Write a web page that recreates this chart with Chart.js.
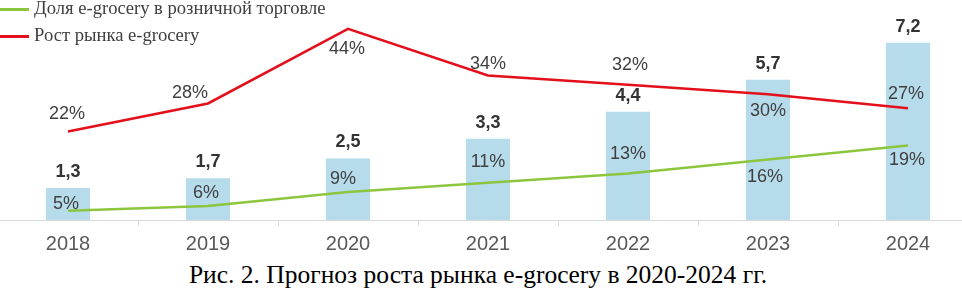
<!DOCTYPE html>
<html>
<head>
<meta charset="utf-8">
<script src="https://cdn.jsdelivr.net/npm/chart.js@4/dist/chart.umd.min.js"></script>
<style>
  body { margin: 0; width: 962px; height: 289px; overflow: hidden; background: #fff; position: relative; }
  #chart { position: absolute; left: -2px; top: 0; }
  .legend { position: absolute; left: 0; font-family: "Liberation Serif", serif; font-size: 18.6px; color: #404040; }
  .legend span { display: inline-block; width: 29px; height: 3px; vertical-align: middle; margin-right: 5px; }
  #caption { position: absolute; left: 0; width: 956px; top: 260px; text-align: center; line-height: 29px;
             font-family: "Liberation Serif", serif; font-size: 25.5px; color: #000; }
</style>
</head>
<body>
<canvas id="chart" width="980" height="255"></canvas>
<div class="legend" style="top:-3px"><span style="background:#8cc63f"></span>Доля e-grocery в розничной торговле</div>
<div class="legend" style="top:24px"><span style="background:#e3101c"></span>Рост рынка e-grocery</div>
<div id="caption">Рис. 2. Прогноз роста рынка e-grocery в 2020-2024 гг.</div>
<script>
// данные
var years = ['2018', '2019', '2020', '2021', '2022', '2023', '2024'];
var marketSize = [1.3, 1.7, 2.5, 3.3, 4.4, 5.7, 7.2];
var shareRetail = [5, 6, 9, 11, 13, 16, 19];
var marketGrowth = [22, 28, 44, 34, 32, 30, 27];

// сдвиги подписей (px) относительно точек
var growthLabelDx = [-1, -18, -1, 0, 2, 0, -2];
var growthLabelDy = [-17, -10, 20, -11, -20, 17, -14];
var shareLabelDx = [-2, -2, -5, 0, 0, -3, -1];
var shareLabelDy = [-7, -13, -13, -21, -19, 18, 15];

var labelsPlugin = {
    id: 'labels',
    afterDatasetsDraw: function (chart) {
        var c = chart.ctx;
        c.save();
        c.textAlign = 'center';
        c.textBaseline = 'middle';

        // значения столбцов
        c.font = 'bold 18px "Liberation Sans", Arial, sans-serif';
        c.fillStyle = '#333333';
        chart.getDatasetMeta(0).data.forEach(function (el, i) {
            c.fillText(marketSize[i].toFixed(1).replace('.', ','), el.x, el.y - 16);
        });

        c.font = '18px "Liberation Sans", Arial, sans-serif';
        c.fillStyle = '#404040';
        chart.getDatasetMeta(1).data.forEach(function (el, i) {
            c.fillText(shareRetail[i] + '%', el.x + shareLabelDx[i], el.y + shareLabelDy[i]);
        });
        chart.getDatasetMeta(2).data.forEach(function (el, i) {
            c.fillText(marketGrowth[i] + '%', el.x + growthLabelDx[i], el.y + growthLabelDy[i]);
        });
        c.restore();
    }
};

var ctx = document.getElementById('chart').getContext('2d');
var myChart = new Chart(ctx, {
    type: 'bar',
    data: {
        labels: years,
        datasets: [{
            label: 'Рынок e-grocery',
            data: marketSize,
            backgroundColor: '#b6dbeb',
            barPercentage: 0.315,
            categoryPercentage: 1,
            yAxisID: 'y',
            order: 10
        }, {
            type: 'line',
            label: 'Доля e-grocery в розничной торговле',
            data: shareRetail,
            borderColor: '#8cc63f',
            borderWidth: 2.5,
            pointRadius: 0,
            tension: 0,
            yAxisID: 'y2',
            order: 2
        }, {
            type: 'line',
            label: 'Рост рынка e-grocery',
            data: marketGrowth,
            borderColor: '#e3101c',
            borderWidth: 2.5,
            pointRadius: 0,
            tension: 0,
            yAxisID: 'y2',
            order: 1
        }]
    },
    options: {
        responsive: false,
        animation: false,
        layout: { padding: 0 },
        plugins: {
            legend: { display: false },
            tooltip: { enabled: false }
        },
        scales: {
            x: {
                offset: true,
                grid: { display: true, drawOnChartArea: false, offset: true, tickLength: 6, color: '#d9d9d9' },
                border: { color: '#d9d9d9' },
                ticks: {
                    color: '#595959',
                    padding: 6,
                    font: { family: '"Liberation Sans", Arial, sans-serif', size: 20 }
                },
                afterFit: function (scale) { scale.height = 35; }
            },
            y: { display: false, min: 0, max: 8.94 },
            y2: { display: false, min: 3, max: 50.2 }
        }
    },
    plugins: [labelsPlugin]
});
</script>
</body>
</html>
